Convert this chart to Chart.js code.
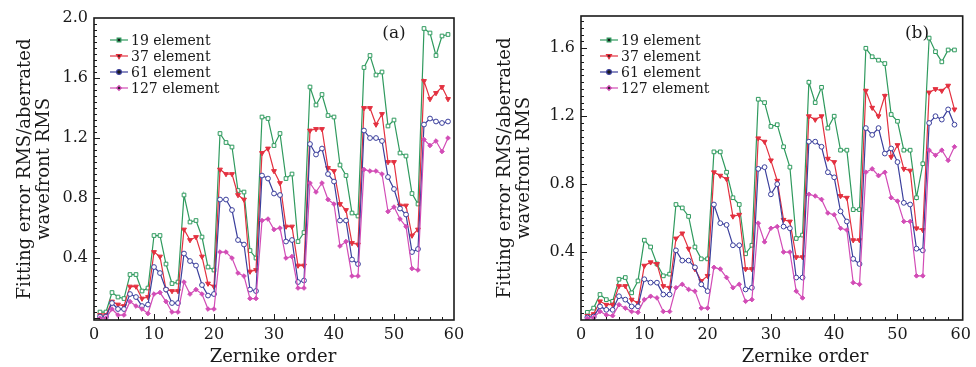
<!DOCTYPE html>
<html>
<head>
<meta charset="utf-8">
<script src="https://cdn.jsdelivr.net/npm/chart.js@4.4.1/dist/chart.umd.min.js"></script>
<style>
html, body { margin: 0; padding: 0; background: #fff; }
#wrap { position: relative; width: 976px; height: 367px; overflow: hidden; }
.panel { position: absolute; top: 0; height: 367px; }
</style>
</head>
<body>
<div id="wrap">
    <div class="panel" style="left:0;width:470px"><canvas id="chartA"></canvas></div>
    <div class="panel" style="left:480px;width:496px"><canvas id="chartB"></canvas></div>
</div>
<script>
// Zernike order (x)
const orders = [
    1, 2, 3, 4, 5, 6, 7, 8, 9, 10,
    11, 12, 13, 14, 15, 16, 17, 18, 19, 20,
    21, 22, 23, 24, 25, 26, 27, 28, 29, 30,
    31, 32, 33, 34, 35, 36, 37, 38, 39, 40,
    41, 42, 43, 44, 45, 46, 47, 48, 49, 50,
    51, 52, 53, 54, 55, 56, 57, 58, 59
];
const seriesNames = ['19 element', '37 element', '61 element', '127 element'];

// panel (a)
const a19 = [
    0.04, 0.04, 0.17, 0.14, 0.13, 0.29, 0.29, 0.18, 0.20, 0.55,
    0.55, 0.36, 0.23, 0.24, 0.82, 0.64, 0.65, 0.54, 0.34, 0.32,
    1.23, 1.17, 1.14, 0.85, 0.84, 0.45, 0.40, 1.34, 1.33, 1.15,
    1.23, 0.93, 0.96, 0.51, 0.57, 1.54, 1.42, 1.49, 1.35, 1.34,
    1.02, 0.95, 0.70, 0.68, 1.67, 1.75, 1.62, 1.64, 1.28, 1.32,
    1.10, 1.08, 0.83, 0.76, 1.93, 1.90, 1.75, 1.88, 1.89
];
const a37 = [
    0.02, 0.02, 0.11, 0.09, 0.08, 0.21, 0.21, 0.13, 0.14, 0.44,
    0.41, 0.19, 0.18, 0.18, 0.59, 0.52, 0.54, 0.41, 0.23, 0.21,
    0.99, 0.96, 0.96, 0.82, 0.79, 0.31, 0.32, 1.10, 1.13, 0.98,
    0.90, 0.61, 0.61, 0.35, 0.35, 1.25, 1.26, 1.26, 1.00, 0.98,
    0.76, 0.72, 0.50, 0.49, 1.40, 1.40, 1.29, 1.36, 1.04, 1.04,
    0.75, 0.75, 0.55, 0.59, 1.58, 1.46, 1.50, 1.54, 1.46
];
const a61 = [
    0.01, 0.01, 0.10, 0.06, 0.06, 0.16, 0.14, 0.08, 0.09, 0.34,
    0.30, 0.19, 0.10, 0.10, 0.43, 0.38, 0.35, 0.22, 0.15, 0.16,
    0.79, 0.79, 0.72, 0.52, 0.49, 0.19, 0.18, 0.95, 0.93, 0.83,
    0.82, 0.51, 0.52, 0.24, 0.25, 1.16, 1.09, 1.13, 0.96, 0.91,
    0.65, 0.65, 0.39, 0.36, 1.25, 1.20, 1.20, 1.18, 0.94, 0.86,
    0.73, 0.69, 0.44, 0.46, 1.29, 1.33, 1.31, 1.30, 1.31
];
const a127 = [
    0.00, 0.00, 0.06, 0.02, 0.02, 0.11, 0.08, 0.06, 0.03, 0.16,
    0.17, 0.11, 0.04, 0.04, 0.24, 0.16, 0.19, 0.16, 0.06, 0.06,
    0.44, 0.44, 0.40, 0.30, 0.28, 0.13, 0.13, 0.65, 0.66, 0.59,
    0.60, 0.40, 0.41, 0.20, 0.20, 0.90, 0.84, 0.90, 0.79, 0.76,
    0.48, 0.51, 0.28, 0.28, 0.99, 0.98, 0.98, 0.96, 0.71, 0.74,
    0.66, 0.61, 0.33, 0.32, 1.19, 1.15, 1.18, 1.11, 1.20
];

// panel (b)
const b19 = [
    0.045, 0.07, 0.15, 0.12, 0.11, 0.24, 0.25, 0.16, 0.23, 0.47,
    0.43, 0.33, 0.26, 0.27, 0.68, 0.66, 0.61, 0.43, 0.36, 0.36,
    0.99, 0.99, 0.87, 0.72, 0.68, 0.39, 0.44, 1.30, 1.28, 1.14,
    1.15, 1.02, 0.90, 0.48, 0.50, 1.40, 1.28, 1.37, 1.13, 1.20,
    1.00, 1.00, 0.65, 0.65, 1.60, 1.55, 1.53, 1.51, 1.21, 1.17,
    1.00, 1.00, 0.72, 0.92, 1.66, 1.58, 1.52, 1.59, 1.59
];
const b37 = [
    0.025, 0.035, 0.11, 0.09, 0.09, 0.20, 0.20, 0.12, 0.10, 0.32,
    0.34, 0.33, 0.20, 0.19, 0.48, 0.51, 0.42, 0.30, 0.23, 0.26,
    0.87, 0.85, 0.83, 0.61, 0.62, 0.30, 0.30, 1.07, 1.05, 0.94,
    0.82, 0.59, 0.58, 0.37, 0.37, 1.20, 1.18, 1.20, 0.95, 0.93,
    0.73, 0.72, 0.47, 0.47, 1.35, 1.25, 1.20, 1.32, 0.96, 1.03,
    0.89, 0.88, 0.54, 0.53, 1.34, 1.36, 1.35, 1.38, 1.24
];
const b61 = [
    0.015, 0.02, 0.08, 0.06, 0.06, 0.14, 0.12, 0.08, 0.08, 0.24,
    0.22, 0.22, 0.15, 0.15, 0.41, 0.35, 0.35, 0.31, 0.21, 0.17,
    0.68, 0.57, 0.56, 0.44, 0.44, 0.18, 0.19, 0.89, 0.90, 0.74,
    0.80, 0.55, 0.54, 0.25, 0.25, 1.05, 1.05, 1.02, 0.87, 0.84,
    0.64, 0.58, 0.36, 0.33, 1.13, 1.09, 1.13, 0.98, 1.01, 0.93,
    0.69, 0.68, 0.42, 0.41, 1.16, 1.20, 1.18, 1.24, 1.15
];
const b127 = [
    0.01, 0.015, 0.05, 0.03, 0.025, 0.09, 0.07, 0.05, 0.045, 0.12,
    0.14, 0.13, 0.05, 0.05, 0.19, 0.21, 0.18, 0.17, 0.07, 0.07,
    0.31, 0.30, 0.25, 0.19, 0.21, 0.11, 0.12, 0.57, 0.46, 0.54,
    0.55, 0.40, 0.40, 0.17, 0.13, 0.74, 0.73, 0.71, 0.63, 0.62,
    0.54, 0.53, 0.22, 0.21, 0.87, 0.89, 0.85, 0.87, 0.72, 0.70,
    0.58, 0.58, 0.26, 0.26, 1.00, 0.97, 1.00, 0.94, 1.02
];

const xTicks = [0, 10, 20, 30, 40, 50, 60];
const yTicksA = [0.4, 0.8, 1.2, 1.6, 2.0];
const yTicksB = [0.4, 0.8, 1.2, 1.6];

const styles = [
    { color: '#2f9a5e', pointStyle: 'rect', fill: '#ffffff', radius: 2.6, rotation: 0 },
    { color: '#e3303f', pointStyle: 'triangle', fill: '#e3303f', radius: 2.8, rotation: 180 },
    { color: '#3b3f9c', pointStyle: 'circle', fill: '#ffffff', radius: 2.4, rotation: 0 },
    { color: '#d24cb6', pointStyle: 'rectRot', fill: '#d24cb6', radius: 2.3, rotation: 0 },
];

const SERIF = '"DejaVu Serif", "Liberation Serif", serif';
const INK = '#1a1a1a';

const paperPlugin = {
    id: 'paper',
    afterDraw(chart, args, opts) {
        const { ctx, chartArea: a, scales } = chart;
        const x = scales.x, y = scales.y;
        ctx.save();
        // frame
        ctx.strokeStyle = INK;
        ctx.lineWidth = 1.6;
        ctx.strokeRect(a.left, a.top, a.right - a.left, a.bottom - a.top);
        // inside ticks
        ctx.lineWidth = 1;
        for (let v = 0; v <= opts.yMax + 1e-6; v += 0.04) {
            const py = Math.round(y.getPixelForValue(v)) + 0.5;
            if (py < a.top + 1 || py > a.bottom - 1) continue;
            const major = Math.abs(v / 0.4 - Math.round(v / 0.4)) < 1e-6;
            ctx.beginPath();
            ctx.moveTo(a.left, py);
            ctx.lineTo(a.left + (major ? 6 : 3), py);
            ctx.stroke();
        }
        for (let v = 2; v < 60; v += 2) {
            const px = Math.round(x.getPixelForValue(v)) + 0.5;
            const major = v % 10 === 0;
            ctx.beginPath();
            ctx.moveTo(px, a.bottom);
            ctx.lineTo(px, a.bottom - (major ? 6 : 3));
            ctx.stroke();
        }
        // x title
        ctx.fillStyle = INK;
        ctx.font = '18px ' + SERIF;
        ctx.textAlign = 'center';
        ctx.textBaseline = 'middle';
        ctx.fillText('Zernike order', opts.xTitleX, 357);
        // panel letter
        ctx.font = '17px ' + SERIF;
        ctx.fillText(opts.letter, opts.letterX, 34);
        // legend
        ctx.font = '14px ' + SERIF;
        ctx.textAlign = 'left';
        chart.data.datasets.forEach((ds, i) => {
            const ly = 40 + i * 16;
            ctx.strokeStyle = ds.borderColor;
            ctx.lineWidth = 1.2;
            ctx.beginPath();
            ctx.moveTo(opts.legendX, ly);
            ctx.lineTo(opts.legendX + 18, ly);
            ctx.stroke();
            Chart.helpers.drawPoint(ctx, {
                pointStyle: ds.pointStyle,
                rotation: ds.pointRotation,
                radius: ds.pointRadius,
                borderWidth: 1,
            }, opts.legendX + 9, ly);
            ctx.fillStyle = INK;
            ctx.fillText(ds.label, opts.legendX + 21, ly + 1);
        });
        ctx.restore();
    }
};

function makePanel(canvasId, values, cfg) {
    const datasets = values.map((vals, i) => ({
        label: seriesNames[i],
        data: orders.map((o, k) => ({ x: o, y: vals[k] })),
        borderColor: styles[i].color,
        backgroundColor: styles[i].fill,
        borderWidth: 1.2,
        pointStyle: styles[i].pointStyle,
        pointRotation: styles[i].rotation,
        pointRadius: styles[i].radius,
        pointBorderWidth: 1,
        pointBackgroundColor: styles[i].fill,
        pointBorderColor: styles[i].color,
        tension: 0,
    }));
    datasets.reverse();
    const ordered = datasets.slice().reverse();

    return new Chart(document.getElementById(canvasId), {
        type: 'line',
        data: { datasets: ordered.map((d, i) => Object.assign(d, { order: 4 - i })) },
        options: {
            animation: false,
            responsive: true,
            maintainAspectRatio: false,
            layout: { padding: { top: cfg.top, right: cfg.right, left: 0, bottom: 0 } },
            plugins: {
                legend: { display: false },
                tooltip: { enabled: false },
                paper: cfg.paper,
            },
            scales: {
                x: {
                    type: 'linear',
                    min: 0,
                    max: cfg.xMax,
                    afterBuildTicks: s => { s.ticks = xTicks.map(v => ({ value: v })); },
                    afterFit: s => { s.height = 47; },
                    grid: { display: false, drawTicks: false },
                    border: { display: false },
                    ticks: {
                        color: INK,
                        padding: 5,
                        maxRotation: 0,
                        font: { family: SERIF, size: 16 },
                    },
                },
                y: {
                    min: cfg.yMin,
                    max: cfg.yMax,
                    afterBuildTicks: s => { s.ticks = cfg.yTicks.map(v => ({ value: v })); },
                    afterFit: s => { s.width = cfg.yWidth; },
                    grid: { display: false, drawTicks: false },
                    border: { display: false },
                    ticks: {
                        color: INK,
                        padding: 6,
                        font: { family: SERIF, size: 16 },
                        callback: v => v.toFixed(1),
                    },
                    title: {
                        display: true,
                        text: ['Fitting error RMS/aberrated', 'wavefront RMS'],
                        color: INK,
                        font: { family: SERIF, size: 18, lineHeight: 1.1 },
                        padding: { top: 15, bottom: 0 },
                    },
                },
            },
        },
        plugins: [paperPlugin],
    });
}

makePanel('chartA', [a19, a37, a61, a127], {
    top: 18, right: 16, yWidth: 94, xMax: 60, yMin: -0.013, yMax: 2.0, yTicks: yTicksA,
    paper: { yMax: 2.0, xTitleX: 273, letter: '(a)', letterX: 394, legendX: 110 },
});
makePanel('chartB', [b19, b37, b61, b127], {
    top: 16, right: 5, yWidth: 101, xMax: 60.3, yMin: 0, yMax: 1.79, yTicks: yTicksB,
    paper: { yMax: 1.79, xTitleX: 325, letter: '(b)', letterX: 437, legendX: 120 },
});
</script>
</body>
</html>
